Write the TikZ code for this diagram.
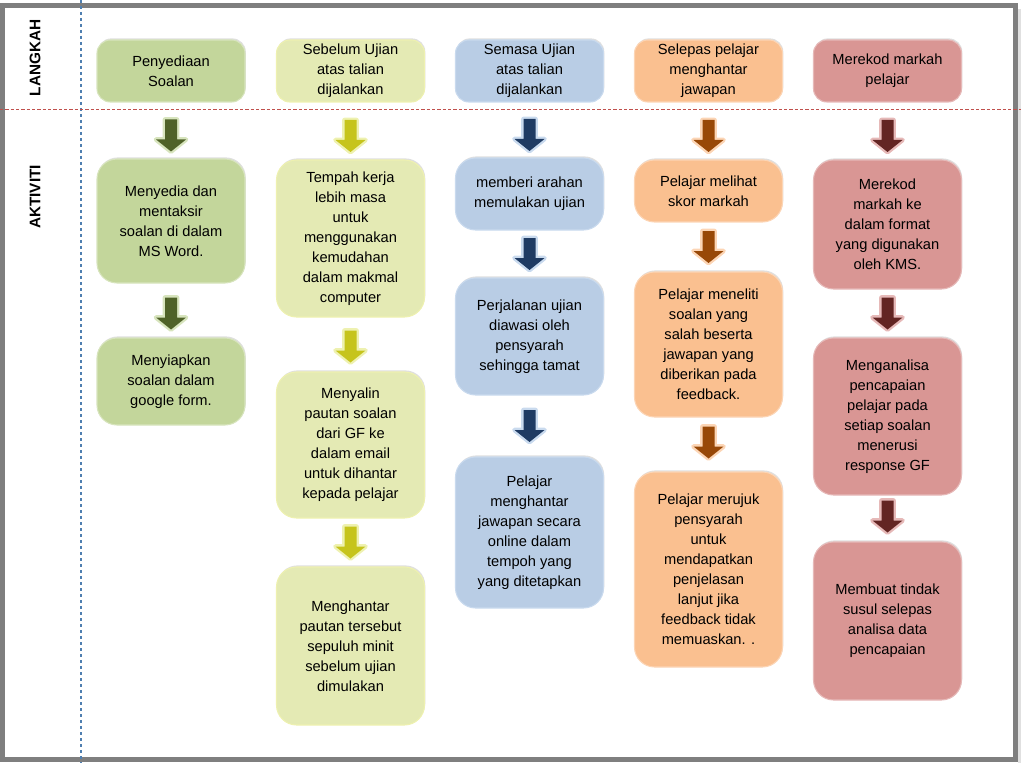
\documentclass[tikz,border=0pt]{standalone}
\usepackage{fontspec}
\setmainfont{Liberation Sans}
\usetikzlibrary{calc,shadows}

% warna lajur: isi, tua (anak panah), cerah (garis)
\definecolor{hijau}{HTML}{C3D69B}
\definecolor{hijauT}{HTML}{4F6228}
\definecolor{hijauC}{HTML}{D7E4BD}
\definecolor{kuning}{HTML}{E4EAB4}
\definecolor{kuningT}{HTML}{C6C41C}
\definecolor{kuningC}{HTML}{EEF1B0}
\definecolor{biru}{HTML}{B9CDE5}
\definecolor{biruT}{HTML}{1F3B63}
\definecolor{biruC}{HTML}{C9DAEE}
\definecolor{oren}{HTML}{FAC090}
\definecolor{orenT}{HTML}{984807}
\definecolor{orenC}{HTML}{FCD5B5}
\definecolor{merah}{HTML}{D99694}
\definecolor{merahT}{HTML}{632523}
\definecolor{merahC}{HTML}{E6B9B8}
\definecolor{bingkai}{HTML}{7F7F7F}
\definecolor{garisV}{HTML}{4F7FB0}
\definecolor{garisH}{HTML}{C0504D}

% anak panah blok di antara dua kotak: [anjakan]{warna}{dari}{ke}
\newcommand{\blockarr}[4][0]{%
  \coordinate (m) at ($(#3.south)!0.5!(#4.north)+(0,#1)$);
  \path[arr=#2] ($(m)+(-6,-16)$) -- ($(m)+(6,-16)$) -- ($(m)+(6,4)$) -- ($(m)+(15,4)$)
    -- ($(m)+(0,16)$) -- ($(m)+(-15,4)$) -- ($(m)+(-6,4)$) -- cycle;
}

\begin{document}
\begin{tikzpicture}[x=0.75pt,y=-0.75pt,
    box/.style={fill=#1, draw=#1C, line width=0.8pt, rounded corners=15pt,
      minimum width=111pt, inner sep=1pt, align=center, text=black,
      font=\fontsize{11}{15}\selectfont,
      drop shadow={shadow xshift=0.6pt, shadow yshift=1.2pt, opacity=0.25}},
    hdr/.style={box=#1, rounded corners=10pt, minimum height=46.5pt},
    arr/.style={fill=#1T, preaction={draw=#1C, line width=3.5pt, line join=round}},
    tajuk/.style={rotate=90, font=\fontsize{11.5}{14}\bfseries\selectfont}]

    \useasboundingbox (0,0) rectangle (1021,763);

    % bingkai dan garis pemisah
    \draw[black!12, line width=2pt] (1019.5,9) -- (1019.5,763);
    \draw[bingkai, line width=3.75pt] (2.5,5.5) rectangle (1015.5,759);
    \draw[draw=garisV, line width=0.9pt, dash pattern=on 2.5pt off 2pt] (81,0) -- (81,763);
    \draw[draw=garisH, line width=0.9pt, dash pattern=on 2.5pt off 1.5pt] (0,109.5) -- (1021,109.5);

    \node[tajuk] (langkah) at (35,58) {LANGKAH};
    \node[tajuk] (aktiviti) at (35,197) {AKTIVITI};

    % langkah
    \node[hdr=hijau] (h1) at (171,71) {Penyediaan\\Soalan};
    \node[hdr=kuning] (h2) at (350.5,71) {Sebelum Ujian\\atas talian\\dijalankan};
    \node[hdr=biru] (h3) at (529.5,71) {Semasa Ujian\\atas talian\\dijalankan};
    \node[hdr=oren] (h4) at (708.5,71) {Selepas pelajar\\menghantar\\jawapan};
    \node[hdr=merah] (h5) at (887.5,71) {Merekod markah\\pelajar};

    % lajur 1
    \node[box=hijau, minimum height=93pt] (a1) at (171,221) {Menyedia dan\\mentaksir\\soalan di dalam\\MS Word.};
    \node[box=hijau, minimum height=65.25pt] (b1) at (171,381.5) {Menyiapkan\\soalan dalam\\google form.};

    % lajur 2
    \node[box=kuning, minimum height=117.75pt] (a2) at (350.5,238.5) {Tempah kerja\\lebih masa\\untuk\\menggunakan\\kemudahan\\dalam makmal\\computer};
    \node[box=kuning, minimum height=109.5pt] (b2) at (350.5,445) {Menyalin\\pautan soalan\\dari GF ke\\dalam email\\untuk dihantar\\kepada pelajar};
    \node[box=kuning, minimum height=118.5pt] (c2) at (350.5,646) {Menghantar\\pautan tersebut\\sepuluh minit\\sebelum ujian\\dimulakan};

    % lajur 3
    \node[box=biru, minimum height=54pt] (a3) at (529.5,194) {memberi arahan\\memulakan ujian};
    \node[box=biru, minimum height=87.75pt] (b3) at (529.5,336.5) {Perjalanan ujian\\diawasi oleh\\pensyarah\\sehingga tamat};
    \node[box=biru, minimum height=113.25pt] (c3) at (529.5,532.5) {Pelajar\\menghantar\\jawapan secara\\online dalam\\tempoh yang\\yang ditetapkan};

    % lajur 4
    \node[box=oren, minimum height=46.5pt] (a4) at (708.5,191) {Pelajar melihat\\skor markah};
    \node[box=oren, minimum height=108.75pt] (b4) at (708.5,344.5) {Pelajar meneliti\\soalan yang\\salah beserta\\jawapan yang\\diberikan pada\\feedback.};
    \node[box=oren, minimum height=146.25pt] (c4) at (708.5,569.5) {Pelajar merujuk\\pensyarah\\untuk\\mendapatkan\\penjelasan\\lanjut jika\\feedback tidak\\memuaskan. .};

    % lajur 5
    \node[box=merah, minimum height=96.75pt] (a5) at (887.5,224.5) {Merekod\\markah ke\\dalam format\\yang digunakan\\oleh KMS.};
    \node[box=merah, minimum height=117.75pt] (b5) at (887.5,416.5) {Menganalisa\\pencapaian\\pelajar pada\\setiap soalan\\menerusi\\response GF};
    \node[box=merah, minimum height=118.5pt] (c5) at (887.5,621) {Membuat tindak\\susul selepas\\analisa data\\pencapaian};

    % anak panah
    \blockarr[5]{hijau}{h1}{a1}
    \blockarr[3]{hijau}{a1}{b1}
    \blockarr[5]{kuning}{h2}{a2}
    \blockarr[2]{kuning}{a2}{b2}
    \blockarr{kuning}{b2}{c2}
    \blockarr[5]{biru}{h3}{a3}
    \blockarr{biru}{a3}{b3}
    \blockarr{biru}{b3}{c3}
    \blockarr[5]{oren}{h4}{a4}
    \blockarr{oren}{a4}{b4}
    \blockarr[-2]{oren}{b4}{c4}
    \blockarr[5]{merah}{h5}{a5}
    \blockarr{merah}{a5}{b5}
    \blockarr[-2]{merah}{b5}{c5}
\end{tikzpicture}
\end{document}
